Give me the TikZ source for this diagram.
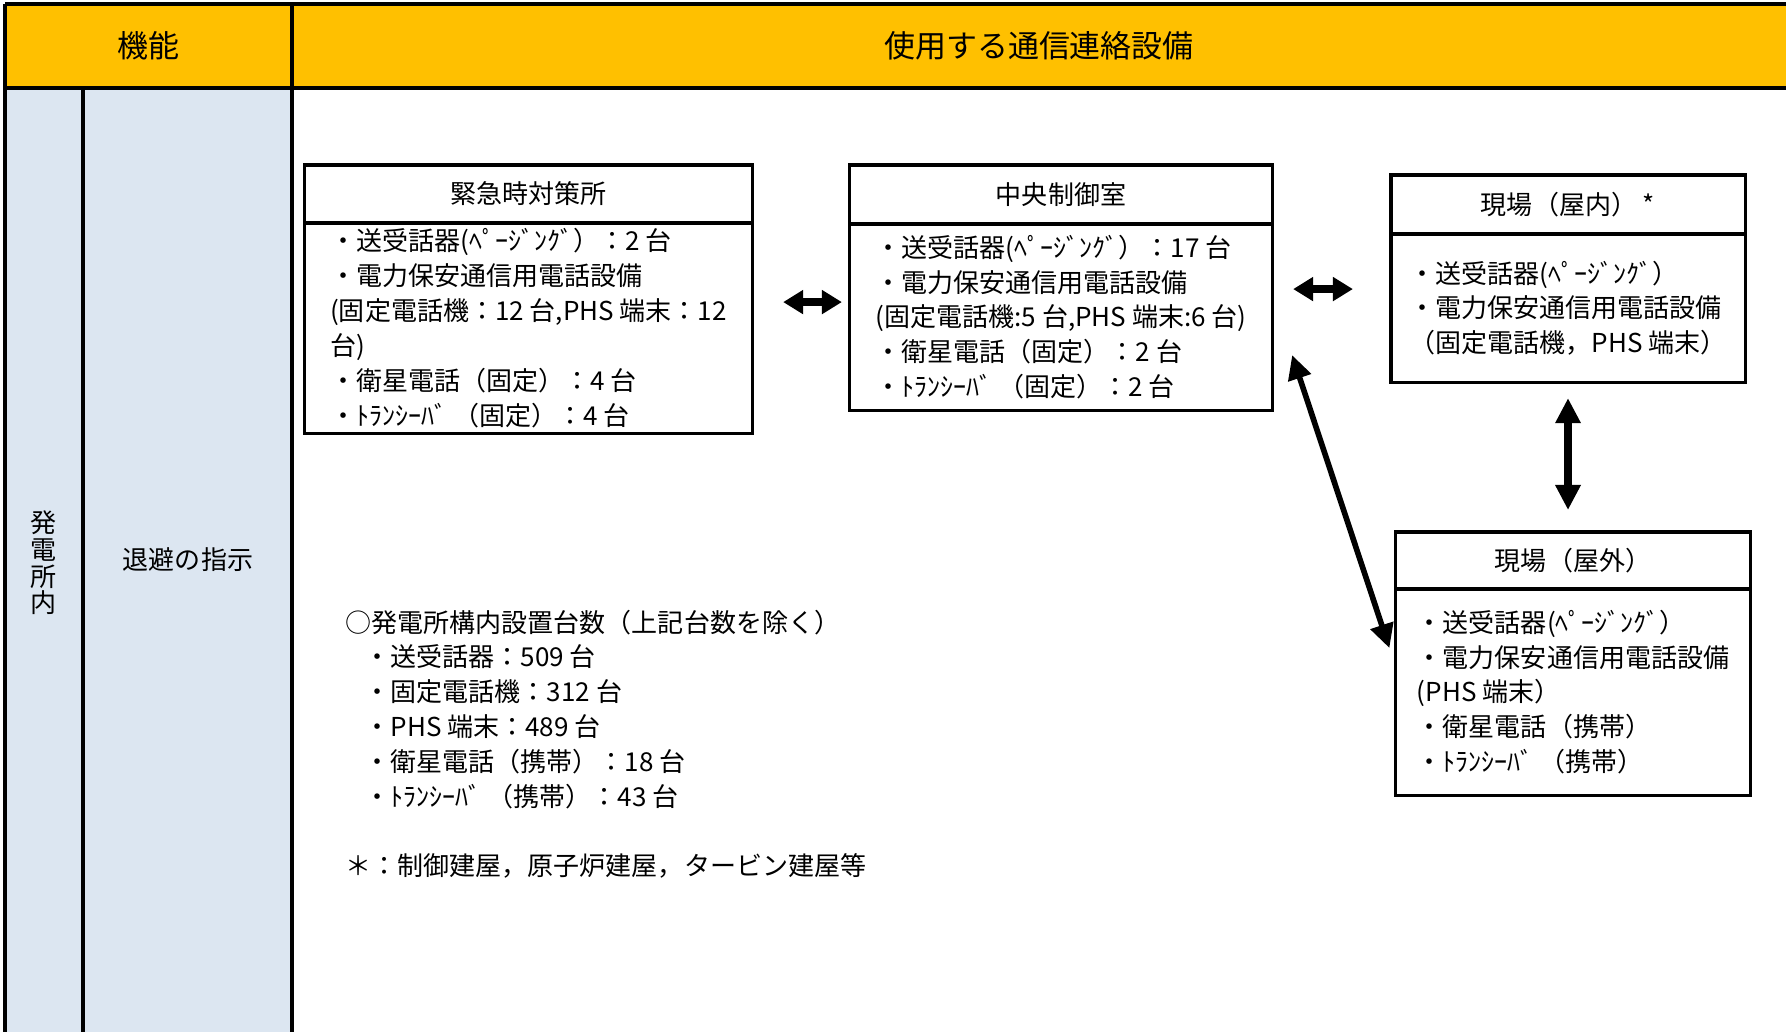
\documentclass[tikz,border=0pt]{standalone}
\usepackage{fontspec}
\setmainfont{Noto Sans CJK JP}
\usetikzlibrary{positioning, arrows.meta}
\definecolor{headgold}{HTML}{FFC000}
\definecolor{sideblue}{HTML}{DCE6F1}

\begin{document}
\begin{tikzpicture}[
        x=0.01cm, y=-0.01cm,
        grid/.style={line width=1pt},
        headtext/.style={font=\fontsize{8.8pt}{10pt}\selectfont},
        celltext/.style={font=\fontsize{7.4pt}{7.6pt}\selectfont, align=center},
        titlebox/.style={draw, line width=0.9pt, rectangle, minimum height=0.58cm, inner sep=0pt, outer sep=0pt},
        bodybox/.style={draw, line width=0.9pt, rectangle, align=left, inner sep=0pt, outer sep=0pt},
        link/.style={{Triangle[length=0.2cm, width=0.23cm]}-{Triangle[length=0.2cm, width=0.23cm]}, line width=2.2pt},
        vlink/.style={{Triangle[length=0.25cm, width=0.24cm]}-{Triangle[length=0.25cm, width=0.24cm]}, line width=2.2pt},
        slimlink/.style={{Triangle[length=0.24cm, width=0.23cm]}-{Triangle[length=0.24cm, width=0.23cm]}, line width=1.6pt},
        font=\fontsize{7.4pt}{9.9pt}\selectfont
    ]
    \useasboundingbox (0,0) rectangle (1786,1032);

    % Table
    \fill[headgold] (5,4) rectangle (1786,88);
    \fill[sideblue] (5,88) rectangle (292,1032);
    \draw[grid] (5,4) -- (1786,4);
    \draw[grid] (5,88) -- (1786,88);
    \draw[grid] (5,4) -- (5,1032);
    \draw[grid] (292,4) -- (292,1032);
    \draw[grid] (83,88) -- (83,1032);

    \node[headtext] (kino) at (148,46) {機能};
    \node[headtext] (setsubi) at (1039,46) {使用する通信連絡設備};
    \node[celltext] (shonai) at (44,563) {発\\電\\所\\内};
    \node[celltext] (taihi) at (188,560) {退避の指示};

    % Nodes
    \node[titlebox, minimum width=4.47cm] (kinkyu) at (528.5,194) {緊急時対策所};
    \node[bodybox, minimum width=4.47cm, minimum height=2.10cm, below=0pt of kinkyu] (kinkyubody)
        {・送受話器(ﾍﾟｰｼﾞﾝｸﾞ）：2 台\\
         ・電力保安通信用電話設備\\
         (固定電話機：12 台,PHS 端末：12\\
         台)\\
         ・衛星電話（固定）：4 台\\
         ・ﾄﾗﾝｼｰﾊﾞ （固定）：4 台};

    \node[titlebox, minimum width=4.22cm, minimum height=0.59cm] (chuo) at (1061,194.5) {中央制御室};
    \node[bodybox, minimum width=4.22cm, minimum height=1.86cm, below=0pt of chuo] (chuobody)
        {・送受話器(ﾍﾟｰｼﾞﾝｸﾞ）：17 台\\
         ・電力保安通信用電話設備\\
         (固定電話機:5 台,PHS 端末:6 台)\\
         ・衛星電話（固定）：2 台\\
         ・ﾄﾗﾝｼｰﾊﾞ （固定）：2 台};

    \node[titlebox, minimum width=3.54cm, minimum height=0.59cm] (genbain) at (1568,204.5) {現場（屋内） *};
    \node[bodybox, minimum width=3.54cm, minimum height=1.48cm, below=0pt of genbain] (genbainbody)
        {・送受話器(ﾍﾟｰｼﾞﾝｸﾞ）\\
         ・電力保安通信用電話設備\\
         （固定電話機，PHS 端末）};

    \node[titlebox, minimum width=3.55cm, minimum height=0.57cm] (genbaout) at (1573,560.5) {現場（屋外）};
    \node[bodybox, minimum width=3.55cm, minimum height=2.06cm, below=0pt of genbaout] (genbaoutbody)
        {・送受話器(ﾍﾟｰｼﾞﾝｸﾞ）\\
         ・電力保安通信用電話設備\\
         (PHS 端末）\\
         ・衛星電話（携帯）\\
         ・ﾄﾗﾝｼｰﾊﾞ （携帯）};

    \node[align=left, anchor=north west, inner sep=0pt] (kosuu) at (345,609)
        {○発電所構内設置台数（上記台数を除く）\\
         \hspace*{0.19cm}・送受話器：509 台\\
         \hspace*{0.19cm}・固定電話機：312 台\\
         \hspace*{0.19cm}・PHS 端末：489 台\\
         \hspace*{0.19cm}・衛星電話（携帯）：18 台\\
         \hspace*{0.19cm}・ﾄﾗﾝｼｰﾊﾞ （携帯）：43 台\\[9.9pt]
         ＊：制御建屋，原子炉建屋，タービン建屋等};

    % Arrows
    \draw[link, shorten <=0.31cm, shorten >=0.08cm] ([yshift=0.26cm]kinkyubody.east) -- ([yshift=0.15cm]chuobody.west);
    \draw[link, shorten <=0.21cm, shorten >=0.38cm] ([yshift=0.28cm]chuobody.east) -- ([yshift=0.19cm]genbainbody.west);
    \draw[vlink, shorten <=0.16cm, shorten >=0.22cm] (genbainbody.south) -- ([xshift=-0.05cm]genbaout.north);
    \draw[slimlink] ([xshift=0.2cm, yshift=-0.38cm]chuobody.east) -- ([xshift=-0.06cm, yshift=0.44cm]genbaoutbody.west);
\end{tikzpicture}
\end{document}
